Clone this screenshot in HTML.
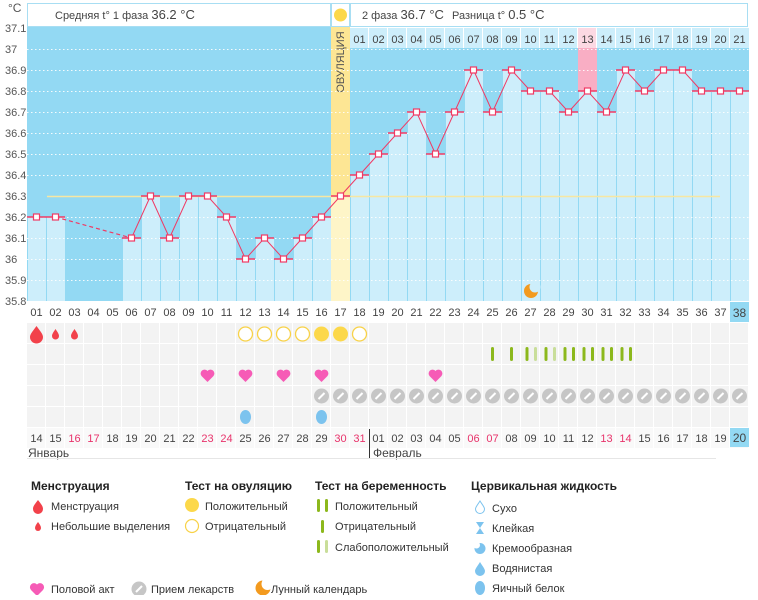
<!DOCTYPE html>
<html><head><meta charset="utf-8"><style>
body{margin:0;background:#fff;}
svg text{font-family:"Liberation Sans",sans-serif;}
</style></head><body>
<svg width="758" height="595" viewBox="0 0 758 595" xmlns="http://www.w3.org/2000/svg" font-size="11">
<!-- header -->
<rect x="27.5" y="3.5" width="303" height="23" fill="#fff" stroke="#a8def3"/>
<rect x="331.5" y="3.5" width="18" height="23" fill="#fff" stroke="#a8def3"/>
<rect x="350.5" y="3.5" width="397" height="23" fill="#fff" stroke="#a8def3"/>
<circle cx="340.5" cy="15" r="6.5" fill="#fcd84a"/>
<text x="55" y="19" fill="#444">Средняя t° 1 фаза <tspan font-size="13">36.2 °C</tspan></text>
<text x="362" y="19" fill="#444">2 фаза <tspan font-size="13">36.7 °C</tspan></text>
<text x="452" y="19" fill="#444">Разница t° <tspan font-size="13">0.5 °C</tspan></text>
<!-- y labels -->
<g fill="#555" font-size="11">
<text x="8" y="12" font-size="12">°C</text>
<text x="5" y="32">37.1</text><text x="5" y="53">37</text><text x="5" y="74">36.9</text><text x="5" y="95">36.8</text><text x="5" y="116">36.7</text><text x="5" y="137">36.6</text><text x="5" y="158">36.5</text><text x="5" y="179">36.4</text><text x="5" y="200">36.3</text><text x="5" y="221">36.2</text><text x="5" y="242">36.1</text><text x="5" y="263">36</text><text x="5" y="284">35.9</text><text x="5" y="305">35.8</text>
</g>
<!-- chart bg -->
<rect x="27" y="27" width="722" height="274" fill="#93d9f3"/>
<!-- phase2 header row -->
<rect x="350" y="27" width="399" height="21" fill="#fff"/>
<g fill="#cdeefb">
<rect x="350" y="28" width="18" height="20"/><rect x="369" y="28" width="18" height="20"/><rect x="388" y="28" width="18" height="20"/><rect x="407" y="28" width="18" height="20"/><rect x="426" y="28" width="18" height="20"/><rect x="445" y="28" width="18" height="20"/><rect x="464" y="28" width="18" height="20"/><rect x="483" y="28" width="18" height="20"/><rect x="502" y="28" width="18" height="20"/><rect x="521" y="28" width="18" height="20"/><rect x="540" y="28" width="18" height="20"/><rect x="559" y="28" width="18" height="20"/><rect x="578" y="28" width="18" height="20" fill="#fcd9e3"/><rect x="597" y="28" width="18" height="20"/><rect x="616" y="28" width="18" height="20"/><rect x="635" y="28" width="18" height="20"/><rect x="654" y="28" width="18" height="20"/><rect x="673" y="28" width="18" height="20"/><rect x="692" y="28" width="18" height="20"/><rect x="711" y="28" width="18" height="20"/><rect x="730" y="28" width="19" height="20"/>
</g>
<g fill="#444" text-anchor="middle">
<text x="359.5" y="43">01</text><text x="378.5" y="43">02</text><text x="397.5" y="43">03</text><text x="416.5" y="43">04</text><text x="435.5" y="43">05</text><text x="454.5" y="43">06</text><text x="473.5" y="43">07</text><text x="492.5" y="43">08</text><text x="511.5" y="43">09</text><text x="530.5" y="43">10</text><text x="549.5" y="43">11</text><text x="568.5" y="43">12</text><text x="587.5" y="43">13</text><text x="606.5" y="43">14</text><text x="625.5" y="43">15</text><text x="644.5" y="43">16</text><text x="663.5" y="43">17</text><text x="682.5" y="43">18</text><text x="701.5" y="43">19</text><text x="720.5" y="43">20</text><text x="739.5" y="43">21</text>
</g>
<!-- ovulation column -->
<rect x="331" y="27" width="19" height="169" fill="#fde694"/>
<rect x="331" y="196" width="19" height="105" fill="#fef5c8"/>
<text transform="translate(344,62) rotate(-90)" text-anchor="middle" fill="#555" font-size="11">ОВУЛЯЦИЯ</text>
<!-- pink -->
<rect x="578" y="48" width="19" height="43" fill="#f9aec4"/>
<!-- bars -->
<g fill="#cdeefb">
<rect x="28" y="217" width="18" height="84"/><rect x="47" y="217" width="18" height="84"/>
<rect x="123" y="238" width="18" height="63"/><rect x="142" y="196" width="18" height="105"/><rect x="161" y="238" width="18" height="63"/><rect x="180" y="196" width="18" height="105"/><rect x="199" y="196" width="18" height="105"/><rect x="218" y="217" width="18" height="84"/><rect x="237" y="259" width="18" height="42"/><rect x="256" y="238" width="18" height="63"/><rect x="275" y="259" width="18" height="42"/><rect x="294" y="238" width="18" height="63"/><rect x="313" y="217" width="18" height="84"/>
<rect x="351" y="175" width="18" height="126"/><rect x="370" y="154" width="18" height="147"/><rect x="389" y="133" width="18" height="168"/><rect x="408" y="112" width="18" height="189"/><rect x="427" y="154" width="18" height="147"/><rect x="446" y="112" width="18" height="189"/><rect x="465" y="70" width="18" height="231"/><rect x="484" y="112" width="18" height="189"/><rect x="503" y="70" width="18" height="231"/><rect x="522" y="91" width="18" height="210"/><rect x="541" y="91" width="18" height="210"/><rect x="560" y="112" width="18" height="189"/><rect x="579" y="91" width="18" height="210"/><rect x="598" y="112" width="18" height="189"/><rect x="617" y="70" width="18" height="231"/><rect x="636" y="91" width="18" height="210"/><rect x="655" y="70" width="18" height="231"/><rect x="674" y="70" width="18" height="231"/><rect x="693" y="91" width="18" height="210"/><rect x="712" y="91" width="18" height="210"/><rect x="731" y="91" width="18" height="210"/>
</g>
<!-- grid dotted -->
<g stroke="#fff" stroke-width="1" stroke-dasharray="1.5 2.5" opacity="0.9">
<line x1="27" y1="49.5" x2="749" y2="49.5"/><line x1="27" y1="70.5" x2="749" y2="70.5"/><line x1="27" y1="91.5" x2="749" y2="91.5"/><line x1="27" y1="112.5" x2="749" y2="112.5"/><line x1="27" y1="133.5" x2="749" y2="133.5"/><line x1="27" y1="154.5" x2="749" y2="154.5"/><line x1="27" y1="175.5" x2="749" y2="175.5"/><line x1="27" y1="217.5" x2="749" y2="217.5"/><line x1="27" y1="238.5" x2="749" y2="238.5"/><line x1="27" y1="259.5" x2="749" y2="259.5"/><line x1="27" y1="280.5" x2="749" y2="280.5"/>
</g>
<line x1="47" y1="196.5" x2="720" y2="196.5" stroke="#f7e7a2" stroke-width="1.5"/>
<!-- data line -->
<g fill="none" stroke="#f03a64" stroke-width="1">
<polyline points="36.5,217 55.5,217"/>
<polyline points="55.5,217 131.5,238" stroke-dasharray="4 3" stroke-width="1.2"/>
<polyline points="131.5,238 150.5,196 169.5,238 188.5,196 207.5,196 226.5,217 245.5,259 264.5,238 283.5,259 302.5,238 321.5,217 340.5,196 359.5,175 378.5,154 397.5,133 416.5,112 435.5,154 454.5,112 473.5,70 492.5,112 511.5,70 530.5,91 549.5,91 568.5,112 587.5,91 606.5,112 625.5,70 644.5,91 663.5,70 682.5,70 701.5,91 720.5,91 739.5,91"/>
</g>
<g stroke="#f03a64" stroke-width="1.6">
<line x1="27" y1="217" x2="46" y2="217"/><line x1="46" y1="217" x2="65" y2="217"/><line x1="122" y1="238" x2="141" y2="238"/><line x1="141" y1="196" x2="160" y2="196"/><line x1="160" y1="238" x2="179" y2="238"/><line x1="179" y1="196" x2="198" y2="196"/><line x1="198" y1="196" x2="217" y2="196"/><line x1="217" y1="217" x2="236" y2="217"/><line x1="236" y1="259" x2="255" y2="259"/><line x1="255" y1="238" x2="274" y2="238"/><line x1="274" y1="259" x2="293" y2="259"/><line x1="293" y1="238" x2="312" y2="238"/><line x1="312" y1="217" x2="331" y2="217"/><line x1="331" y1="196" x2="350" y2="196"/><line x1="350" y1="175" x2="369" y2="175"/><line x1="369" y1="154" x2="388" y2="154"/><line x1="388" y1="133" x2="407" y2="133"/><line x1="407" y1="112" x2="426" y2="112"/><line x1="426" y1="154" x2="445" y2="154"/><line x1="445" y1="112" x2="464" y2="112"/><line x1="464" y1="70" x2="483" y2="70"/><line x1="483" y1="112" x2="502" y2="112"/><line x1="502" y1="70" x2="521" y2="70"/><line x1="521" y1="91" x2="540" y2="91"/><line x1="540" y1="91" x2="559" y2="91"/><line x1="559" y1="112" x2="578" y2="112"/><line x1="578" y1="91" x2="597" y2="91"/><line x1="597" y1="112" x2="616" y2="112"/><line x1="616" y1="70" x2="635" y2="70"/><line x1="635" y1="91" x2="654" y2="91"/><line x1="654" y1="70" x2="673" y2="70"/><line x1="673" y1="70" x2="692" y2="70"/><line x1="692" y1="91" x2="711" y2="91"/><line x1="711" y1="91" x2="730" y2="91"/><line x1="730" y1="91" x2="749" y2="91"/>
</g>
<g fill="#fff" stroke="#f03a64" stroke-width="1.2">
<rect x="33.5" y="214" width="6" height="6"/><rect x="52.5" y="214" width="6" height="6"/><rect x="128.5" y="235" width="6" height="6"/><rect x="147.5" y="193" width="6" height="6"/><rect x="166.5" y="235" width="6" height="6"/><rect x="185.5" y="193" width="6" height="6"/><rect x="204.5" y="193" width="6" height="6"/><rect x="223.5" y="214" width="6" height="6"/><rect x="242.5" y="256" width="6" height="6"/><rect x="261.5" y="235" width="6" height="6"/><rect x="280.5" y="256" width="6" height="6"/><rect x="299.5" y="235" width="6" height="6"/><rect x="318.5" y="214" width="6" height="6"/><rect x="337.5" y="193" width="6" height="6"/><rect x="356.5" y="172" width="6" height="6"/><rect x="375.5" y="151" width="6" height="6"/><rect x="394.5" y="130" width="6" height="6"/><rect x="413.5" y="109" width="6" height="6"/><rect x="432.5" y="151" width="6" height="6"/><rect x="451.5" y="109" width="6" height="6"/><rect x="470.5" y="67" width="6" height="6"/><rect x="489.5" y="109" width="6" height="6"/><rect x="508.5" y="67" width="6" height="6"/><rect x="527.5" y="88" width="6" height="6"/><rect x="546.5" y="88" width="6" height="6"/><rect x="565.5" y="109" width="6" height="6"/><rect x="584.5" y="88" width="6" height="6"/><rect x="603.5" y="109" width="6" height="6"/><rect x="622.5" y="67" width="6" height="6"/><rect x="641.5" y="88" width="6" height="6"/><rect x="660.5" y="67" width="6" height="6"/><rect x="679.5" y="67" width="6" height="6"/><rect x="698.5" y="88" width="6" height="6"/><rect x="717.5" y="88" width="6" height="6"/><rect x="736.5" y="88" width="6" height="6"/>
</g>
<!-- moon -->
<circle cx="531" cy="291" r="7" fill="#f39a1e"/><circle cx="535" cy="287" r="5.5" fill="#cdeefb"/>
<!-- day number row -->
<rect x="730" y="302" width="19" height="20" fill="#93d9f3"/>
<g fill="#444" text-anchor="middle">
<text x="36.5" y="316">01</text><text x="55.5" y="316">02</text><text x="74.5" y="316">03</text><text x="93.5" y="316">04</text><text x="112.5" y="316">05</text><text x="131.5" y="316">06</text><text x="150.5" y="316">07</text><text x="169.5" y="316">08</text><text x="188.5" y="316">09</text><text x="207.5" y="316">10</text><text x="226.5" y="316">11</text><text x="245.5" y="316">12</text><text x="264.5" y="316">13</text><text x="283.5" y="316">14</text><text x="302.5" y="316">15</text><text x="321.5" y="316">16</text><text x="340.5" y="316">17</text><text x="359.5" y="316">18</text><text x="378.5" y="316">19</text><text x="397.5" y="316">20</text><text x="416.5" y="316">21</text><text x="435.5" y="316">22</text><text x="454.5" y="316">23</text><text x="473.5" y="316">24</text><text x="492.5" y="316">25</text><text x="511.5" y="316">26</text><text x="530.5" y="316">27</text><text x="549.5" y="316">28</text><text x="568.5" y="316">29</text><text x="587.5" y="316">30</text><text x="606.5" y="316">31</text><text x="625.5" y="316">32</text><text x="644.5" y="316">33</text><text x="663.5" y="316">34</text><text x="682.5" y="316">35</text><text x="701.5" y="316">36</text><text x="720.5" y="316">37</text><text x="739.5" y="317" font-size="12">38</text>
</g>
<!-- event rows background -->
<defs><pattern id="cells" x="27" y="323" width="19" height="21" patternUnits="userSpaceOnUse"><rect x="0" y="0" width="18" height="20" fill="#f3f3f3"/></pattern>
<pattern id="cells2" x="27" y="428" width="19" height="20" patternUnits="userSpaceOnUse"><rect x="0" y="0" width="18" height="20" fill="#f9f9f9"/></pattern></defs>
<rect x="27" y="323" width="722" height="105" fill="url(#cells)"/>
<rect x="27" y="428" width="722" height="20" fill="url(#cells2)"/>
<!-- menstruation -->
<g fill="#f2414a">
<path d="M36.5,326 C40,331 43,334 43,337 A6.5,6.5 0 0 1 30,337 C30,334 33,331 36.5,326Z"/>
<path d="M55.5,329 C57.5,332 59,334 59,336 A3.5,3.5 0 0 1 52,336 C52,334 53.5,332 55.5,329Z"/>
<path d="M74.5,329 C76.5,332 78,334 78,336 A3.5,3.5 0 0 1 71,336 C71,334 72.5,332 74.5,329Z"/>
</g>
<!-- ovulation tests -->
<g fill="#fff" stroke="#f8d248" stroke-width="1.3">
<circle cx="245.5" cy="334" r="7"/><circle cx="264.5" cy="334" r="7"/><circle cx="283.5" cy="334" r="7"/><circle cx="302.5" cy="334" r="7"/><circle cx="359.5" cy="334" r="7"/>
</g>
<circle cx="321.5" cy="334" r="7.5" fill="#fcd84a"/><circle cx="340.5" cy="334" r="7.5" fill="#fcd84a"/>
<!-- pregnancy tests -->
<g fill="#8cb81c">
<rect x="491" y="347" width="3" height="14" rx="1.5"/><rect x="510" y="347" width="3" height="14" rx="1.5"/>
<rect x="525.5" y="347" width="3" height="14" rx="1.5"/><rect x="544.5" y="347" width="3" height="14" rx="1.5"/>
<rect x="563.5" y="347" width="3" height="14" rx="1.5"/><rect x="572" y="347" width="3" height="14" rx="1.5"/>
<rect x="582.5" y="347" width="3" height="14" rx="1.5"/><rect x="591" y="347" width="3" height="14" rx="1.5"/>
<rect x="601.5" y="347" width="3" height="14" rx="1.5"/><rect x="610" y="347" width="3" height="14" rx="1.5"/>
<rect x="620.5" y="347" width="3" height="14" rx="1.5"/><rect x="629" y="347" width="3" height="14" rx="1.5"/>
</g>
<g fill="#c9de9a"><rect x="534" y="347" width="3" height="14" rx="1.5"/><rect x="553" y="347" width="3" height="14" rx="1.5"/></g>
<!-- hearts -->
<g fill="#f65bb6">
<path d="M207.5,382 L201.5,376 A3.3,3.3 0 0 1 207.5,371 A3.3,3.3 0 0 1 213.5,376 Z"/>
<path d="M245.5,382 L239.5,376 A3.3,3.3 0 0 1 245.5,371 A3.3,3.3 0 0 1 251.5,376 Z"/>
<path d="M283.5,382 L277.5,376 A3.3,3.3 0 0 1 283.5,371 A3.3,3.3 0 0 1 289.5,376 Z"/>
<path d="M321.5,382 L315.5,376 A3.3,3.3 0 0 1 321.5,371 A3.3,3.3 0 0 1 327.5,376 Z"/>
<path d="M435.5,382 L429.5,376 A3.3,3.3 0 0 1 435.5,371 A3.3,3.3 0 0 1 441.5,376 Z"/>
</g>
<!-- pills -->
<defs><g id="pill"><circle r="7.5" fill="#c6c6c6"/><line x1="-3" y1="3" x2="3" y2="-3" stroke="#fff" stroke-width="2"/></g></defs>
<g>
<use href="#pill" x="321.5" y="396"/><use href="#pill" x="340.5" y="396"/><use href="#pill" x="359.5" y="396"/><use href="#pill" x="378.5" y="396"/><use href="#pill" x="397.5" y="396"/><use href="#pill" x="416.5" y="396"/><use href="#pill" x="435.5" y="396"/><use href="#pill" x="454.5" y="396"/><use href="#pill" x="473.5" y="396"/><use href="#pill" x="492.5" y="396"/><use href="#pill" x="511.5" y="396"/><use href="#pill" x="530.5" y="396"/><use href="#pill" x="549.5" y="396"/><use href="#pill" x="568.5" y="396"/><use href="#pill" x="587.5" y="396"/><use href="#pill" x="606.5" y="396"/><use href="#pill" x="625.5" y="396"/><use href="#pill" x="644.5" y="396"/><use href="#pill" x="663.5" y="396"/><use href="#pill" x="682.5" y="396"/><use href="#pill" x="701.5" y="396"/><use href="#pill" x="720.5" y="396"/><use href="#pill" x="739.5" y="396"/>
</g>
<!-- egg white -->
<ellipse cx="245.5" cy="417" rx="5.5" ry="7" fill="#7cc3ee"/><ellipse cx="321.5" cy="417" rx="5.5" ry="7" fill="#7cc3ee"/>
<!-- dates -->
<rect x="730" y="428" width="19" height="19" fill="#93d9f3"/>
<g fill="#444" text-anchor="middle">
<text x="36.5" y="442">14</text><text x="55.5" y="442">15</text><text x="74.5" y="442" fill="#e8336b">16</text><text x="93.5" y="442" fill="#e8336b">17</text><text x="112.5" y="442">18</text><text x="131.5" y="442">19</text><text x="150.5" y="442">20</text><text x="169.5" y="442">21</text><text x="188.5" y="442">22</text><text x="207.5" y="442" fill="#e8336b">23</text><text x="226.5" y="442" fill="#e8336b">24</text><text x="245.5" y="442">25</text><text x="264.5" y="442">26</text><text x="283.5" y="442">27</text><text x="302.5" y="442">28</text><text x="321.5" y="442">29</text><text x="340.5" y="442" fill="#e8336b">30</text><text x="359.5" y="442" fill="#e8336b">31</text><text x="378.5" y="442">01</text><text x="397.5" y="442">02</text><text x="416.5" y="442">03</text><text x="435.5" y="442">04</text><text x="454.5" y="442">05</text><text x="473.5" y="442" fill="#e8336b">06</text><text x="492.5" y="442" fill="#e8336b">07</text><text x="511.5" y="442">08</text><text x="530.5" y="442">09</text><text x="549.5" y="442">10</text><text x="568.5" y="442">11</text><text x="587.5" y="442">12</text><text x="606.5" y="442" fill="#e8336b">13</text><text x="625.5" y="442" fill="#e8336b">14</text><text x="644.5" y="442">15</text><text x="663.5" y="442">16</text><text x="682.5" y="442">17</text><text x="701.5" y="442">18</text><text x="720.5" y="442">19</text><text x="739.5" y="442" font-size="12">20</text>
</g>
<line x1="369.5" y1="429" x2="369.5" y2="458" stroke="#333"/>
<text x="28" y="457" fill="#444" font-size="12">Январь</text>
<text x="373" y="457" fill="#444" font-size="12">Февраль</text>
<line x1="27" y1="458.5" x2="716" y2="458.5" stroke="#e6e6e6"/>
<!-- legend -->
<g fill="#222" font-size="12" font-weight="bold">
<text x="31" y="490">Менструация</text><text x="185" y="490">Тест на овуляцию</text><text x="315" y="490">Тест на беременность</text><text x="471" y="490">Цервикальная жидкость</text>
</g>
<g fill="#333" font-size="11">
<text x="51" y="510">Менструация</text><text x="51" y="530">Небольшие выделения</text>
<text x="205" y="510">Положительный</text><text x="205" y="530">Отрицательный</text>
<text x="335" y="510">Положительный</text><text x="335" y="530">Отрицательный</text><text x="335" y="551">Слабоположительный</text>
<text x="492" y="512">Сухо</text><text x="492" y="532">Клейкая</text><text x="492" y="552">Кремообразная</text><text x="492" y="572">Водянистая</text><text x="492" y="592">Яичный белок</text>
<text x="51" y="593">Половой акт</text><text x="151" y="593">Прием лекарств</text><text x="271" y="593">Лунный календарь</text>
</g>
<g fill="#f2414a">
<path d="M38,500 C41,504 43,506 43,509 A5,5 0 0 1 33,509 C33,506 35,504 38,500Z"/>
<path d="M38,522 C39.5,524 41,526 41,528 A3,3 0 0 1 35,528 C35,526 36.5,524 38,522Z"/>
</g>
<circle cx="192" cy="505" r="7" fill="#fcd84a"/><circle cx="192" cy="526" r="6.5" fill="#fff" stroke="#f8d248" stroke-width="1.2"/>
<g fill="#8cb81c"><rect x="317" y="499" width="3" height="13" rx="1.5"/><rect x="325" y="499" width="3" height="13" rx="1.5"/><rect x="321" y="520" width="3" height="13" rx="1.5"/><rect x="317" y="540" width="3" height="13" rx="1.5"/></g>
<rect x="325" y="540" width="3" height="13" rx="1.5" fill="#c9de9a"/>
<path d="M480,501 C482.5,505 484.5,507 484.5,509 A4.5,4.5 0 0 1 475.5,509 C475.5,507 477.5,505 480,501Z" fill="#fff" stroke="#7cc3ee" stroke-width="1"/>
<path d="M476,522 H484 L480,528 L484,534 H476 L480,528Z" fill="#7cc3ee"/>
<circle cx="480" cy="548.5" r="5.5" fill="#7cc3ee"/><circle cx="476.5" cy="545" r="3.5" fill="#fff"/>
<path d="M480,562 C482.5,566 485,569 485,571 A5,5 0 0 1 475,571 C475,569 477.5,566 480,562Z" fill="#7cc3ee"/>
<ellipse cx="480" cy="588" rx="5" ry="7" fill="#7cc3ee"/>
<path d="M37,596 L31,590 A3.5,3.5 0 0 1 37,584.5 A3.5,3.5 0 0 1 43,590 Z" fill="#f65bb6"/>
<use href="#pill" x="139" y="589"/>
<circle cx="263" cy="588" r="7.5" fill="#f39a1e"/><circle cx="267.5" cy="584" r="6" fill="#fff"/>
</svg>
</body></html>
